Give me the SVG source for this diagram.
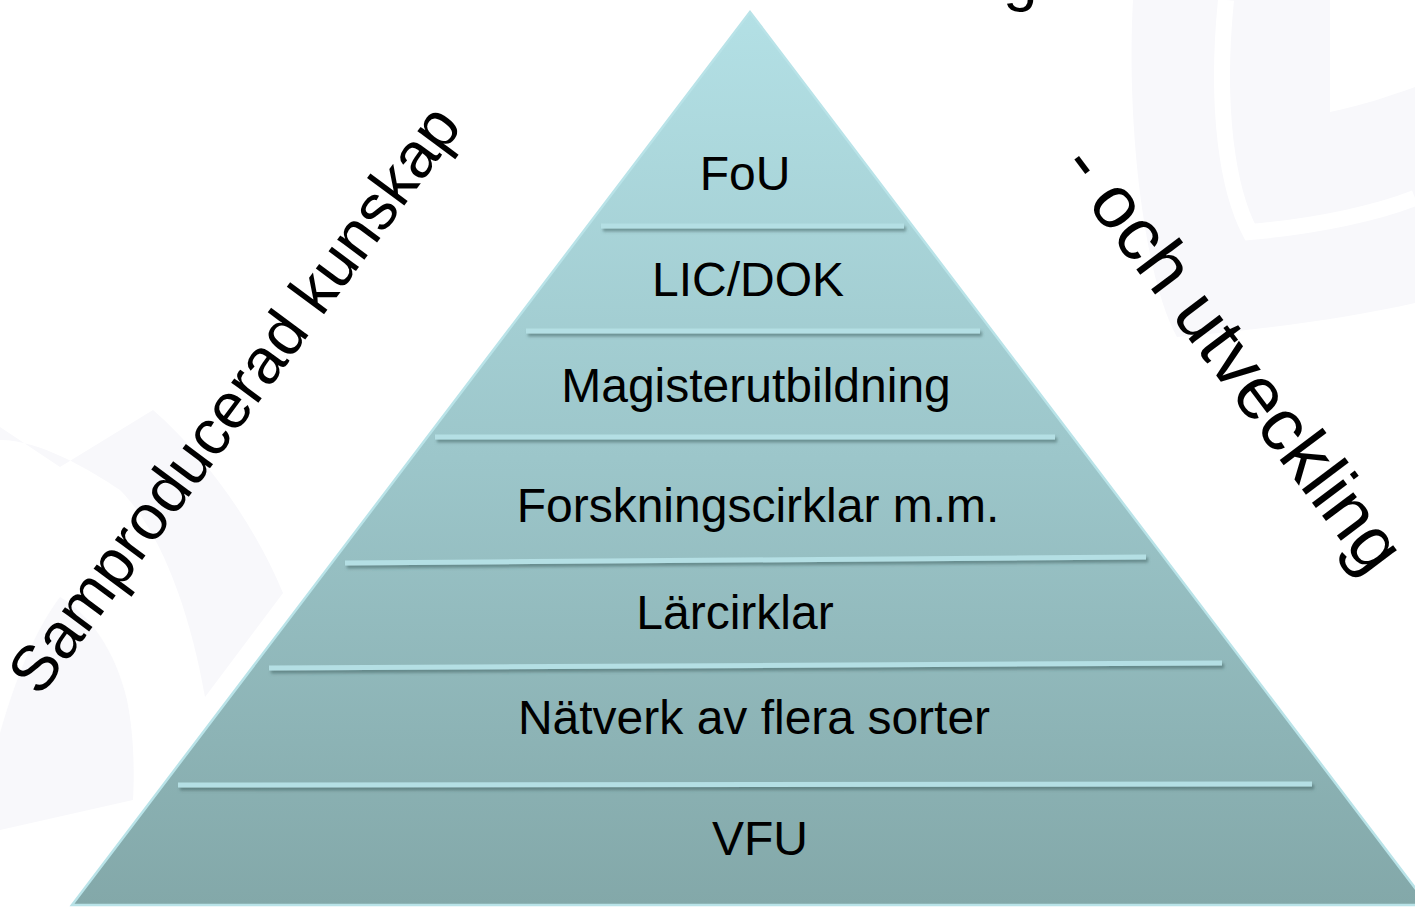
<svg xmlns="http://www.w3.org/2000/svg" width="1415" height="907" viewBox="0 0 1415 907">
  <defs>
    <linearGradient id="pyr" x1="0" y1="12" x2="0" y2="905" gradientUnits="userSpaceOnUse">
      <stop offset="0" stop-color="#b3e0e5"/>
      <stop offset="0.5" stop-color="#9cc6ca"/>
      <stop offset="1" stop-color="#83a8a9"/>
    </linearGradient>
    <filter id="shadow" filterUnits="userSpaceOnUse" x="0" y="0" width="1415" height="907">
      <feDropShadow dx="2" dy="3" stdDeviation="1.5" flood-color="#3f5f61" flood-opacity="0.55"/>
    </filter>
  </defs>
  <style>
    .lbl { font-family: "Liberation Sans", Arial, sans-serif; font-size: 48px; fill: #000; text-anchor: middle; }
    .side { font-family: "Liberation Sans", Arial, sans-serif; fill: #000; }
    .sep { stroke: #b4dfe4; stroke-width: 5; stroke-linecap: butt; filter: url(#shadow); }
    .wm { fill: #f8f8fb; }
  </style>
  <rect x="0" y="0" width="1415" height="907" fill="#ffffff"/>

  <g id="watermark">
    <path class="wm" d="M1133,0 C1126,130 1145,280 1177,337 C1260,330 1350,318 1415,303 L1415,0 Z"/>
    <path d="M1226,0 C1215,110 1228,190 1250,232 C1320,226 1380,212 1415,198" fill="none" stroke="#ffffff" stroke-width="16"/>
    <path fill="#ffffff" d="M1330,0 L1330,112 C1360,106 1390,96 1415,87 L1415,0 Z"/>
    <path class="wm" d="M0,427 L60,467 L153,410 C205,455 255,525 283,593 L220,677 L205,697 C190,610 160,530 120,490 C90,470 40,440 0,440 Z"/>
    <path class="wm" d="M60,597 C90,615 115,650 127,700 C135,740 134,780 133,800 L0,830 L0,733 C15,680 35,630 60,597 Z"/>
  </g>

  <g id="pyramid">
    <polygon points="750,12 72,905 1428,905" fill="url(#pyr)" stroke="#b9e3e8" stroke-width="2.5" stroke-linejoin="miter"/>
  </g>

  <g id="separators">
    <line class="sep" x1="601" y1="226" x2="904" y2="226"/>
    <line class="sep" x1="526" y1="331" x2="980" y2="331"/>
    <line class="sep" x1="435" y1="437" x2="1055" y2="437"/>
    <line class="sep" x1="345" y1="563" x2="1146" y2="557"/>
    <line class="sep" x1="269" y1="668" x2="1222" y2="663"/>
    <line class="sep" x1="178" y1="785" x2="1312" y2="784"/>
  </g>

  <g id="level-fou"><text class="lbl" x="745" y="190">FoU</text></g>
  <g id="level-licdok"><text class="lbl" x="748" y="296">LIC/DOK</text></g>
  <g id="level-magister"><text class="lbl" x="756" y="402">Magisterutbildning</text></g>
  <g id="level-forskningscirklar"><text class="lbl" x="758" y="522">Forskningscirklar m.m.</text></g>
  <g id="level-larcirklar"><text class="lbl" x="735" y="629">Lärcirklar</text></g>
  <g id="level-natverk"><text class="lbl" x="754" y="734">Nätverk av flera sorter</text></g>
  <g id="level-vfu"><text class="lbl" x="760" y="855">VFU</text></g>

  <g id="side-left">
    <text class="side" font-size="64" transform="translate(40,698) rotate(-53.5)">Samproducerad kunskap</text>
  </g>
  <g id="side-right">
    <text class="side" font-size="74" transform="translate(1059,167) rotate(53)">- och utveckling</text>
  </g>
  <g id="title-fragment">
    <text class="side" font-size="62" x="1003" y="-1">g</text>
  </g>
</svg>
